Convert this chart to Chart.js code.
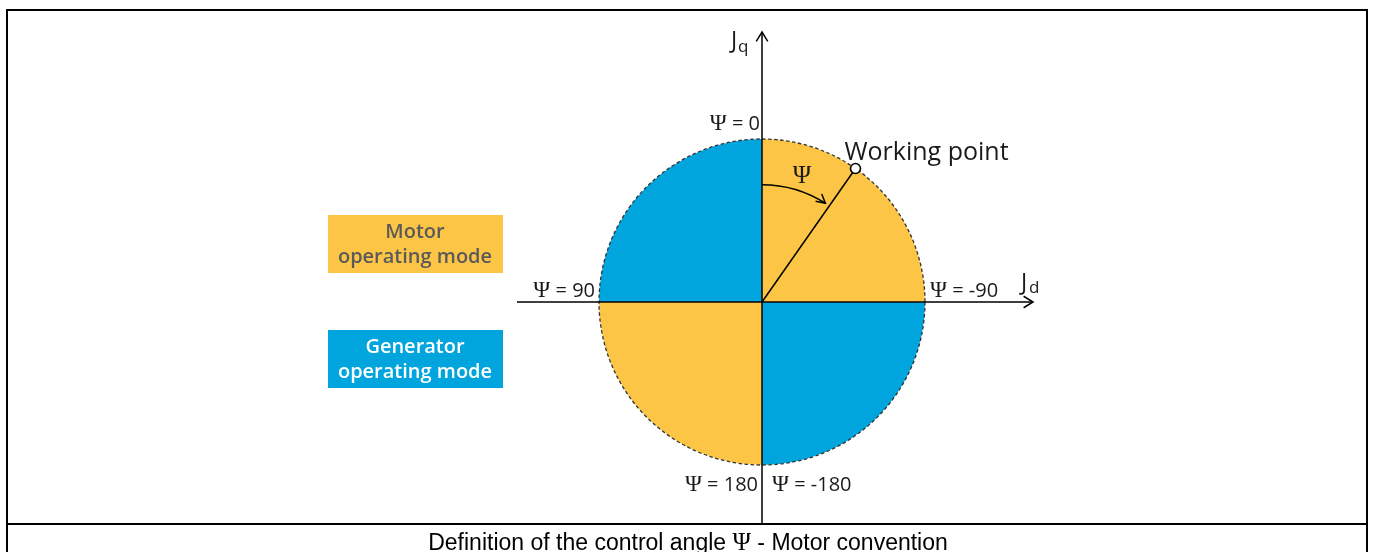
<!DOCTYPE html>
<html>
<head>
<meta charset="utf-8">
<script src="https://cdn.jsdelivr.net/npm/chart.js@4/dist/chart.umd.min.js"></script>
<style>
  html, body { margin: 0; padding: 0; background: #fff; }
  #wrap { position: relative; width: 1373px; height: 552px; }
</style>
</head>
<body>
<div id="wrap"><canvas id="psiChart"></canvas></div>
<script>
// quadrants, clockwise starting at the Jq axis
const quadrantLabels = ['Motor (0 to -90)', 'Generator (-90 to -180)', 'Motor (180 to 90)', 'Generator (90 to 0)'];
const quadrantSpans = [90, 90, 90, 90];
const quadrantColors = ['#FDC545', '#00A5DD', '#FDC545', '#00A5DD'];

// angle labels around the circle
const angleTop = 'Ψ = 0';
const angleRight = 'Ψ = -90';
const angleLeft = 'Ψ = 90';
const angleBottomLeft = 'Ψ = 180';
const angleBottomRight = 'Ψ = -180';

// working point, degrees clockwise from Jq
const workingPointAngle = 35;
const workingPointLabel = 'Working point';

const modeLabels = [['Motor', 'operating mode'], ['Generator', 'operating mode']];
const captionText = ['Definition of the control angle ', 'Ψ', ' - Motor convention'];

const SANS = '"Open Sans", "Noto Sans", sans-serif';
const SERIF = '"Liberation Serif", "DejaVu Serif", serif';
const ARIAL = '"Liberation Sans", Arial, sans-serif';

// draw a line of text made of several font runs
function drawRuns(ctx, runs, x, y, align) {
    let total = 0;
    runs.forEach(r => { ctx.font = r.font; total += ctx.measureText(r.text).width; });
    let cx = align === 'right' ? x - total : align === 'center' ? x - total / 2 : x;
    ctx.textAlign = 'left';
    runs.forEach(r => {
        ctx.font = r.font;
        ctx.fillText(r.text, cx, y);
        cx += ctx.measureText(r.text).width;
    });
}

function psiRuns(label, size) {
    return [
        { text: label.charAt(0), font: `${size + 3}px ${SERIF}` },
        { text: label.slice(1), font: `${size}px ${SANS}` }
    ];
}

function chevron(ctx, x, y, dirAngle, len, spread) {
    ctx.beginPath();
    ctx.moveTo(x - len * Math.cos(dirAngle - spread), y - len * Math.sin(dirAngle - spread));
    ctx.lineTo(x, y);
    ctx.lineTo(x - len * Math.cos(dirAngle + spread), y - len * Math.sin(dirAngle + spread));
    ctx.stroke();
}

const diagramPlugin = {
    id: 'diagram',
    beforeDraw(chart) {
        const ctx = chart.ctx;
        ctx.save();
        ctx.fillStyle = '#fff';
        ctx.fillRect(0, 0, chart.width, chart.height);

        // mode boxes
        const boxes = [{ y: 215, bg: quadrantColors[0], fg: '#5a5a5a' }, { y: 330, bg: quadrantColors[1], fg: '#ffffff' }];
        boxes.forEach((b, i) => {
            ctx.fillStyle = b.bg;
            ctx.fillRect(328, b.y, 175, 58);
            ctx.fillStyle = b.fg;
            ctx.font = `600 20px ${SANS}`;
            ctx.textAlign = 'center';
            ctx.textBaseline = 'alphabetic';
            ctx.fillText(modeLabels[i][0], 415, b.y + 23);
            ctx.fillText(modeLabels[i][1], 415, b.y + 48);
        });
        ctx.restore();
    },
    afterDraw(chart) {
        const ctx = chart.ctx;
        const arc = chart.getDatasetMeta(0).data[0];
        const cx = arc.x, cy = arc.y, r = arc.outerRadius;
        ctx.save();

        // dashed outline
        ctx.strokeStyle = '#333';
        ctx.lineWidth = 1.3;
        ctx.setLineDash([3.5, 2.5]);
        ctx.beginPath();
        ctx.arc(cx, cy, r, 0, Math.PI * 2);
        ctx.stroke();
        ctx.setLineDash([]);

        // axes
        ctx.strokeStyle = '#000';
        ctx.lineWidth = 1.5;
        ctx.beginPath();
        ctx.moveTo(cx, 524);
        ctx.lineTo(cx, 32);
        ctx.moveTo(517, cy);
        ctx.lineTo(1033, cy);
        ctx.stroke();
        chevron(ctx, cx, 32, -Math.PI / 2, 11, 0.55);
        chevron(ctx, 1033, cy, 0, 11, 0.55);

        // working point
        const a = workingPointAngle * Math.PI / 180;
        const wx = cx + r * Math.sin(a), wy = cy - r * Math.cos(a);
        ctx.beginPath();
        ctx.moveTo(cx, cy);
        ctx.lineTo(wx, wy);
        ctx.stroke();

        // angle arc with arrow
        const ar = r * 0.72;
        const endA = a - 0.04;
        ctx.beginPath();
        ctx.arc(cx, cy, ar, -Math.PI / 2, -Math.PI / 2 + endA);
        ctx.stroke();
        const ex = cx + ar * Math.sin(endA), ey = cy - ar * Math.cos(endA);
        chevron(ctx, ex, ey, endA + 0.12, 10, 0.5);

        ctx.beginPath();
        ctx.arc(wx, wy, 5, 0, Math.PI * 2);
        ctx.fillStyle = '#fff';
        ctx.fill();
        ctx.lineWidth = 1.6;
        ctx.stroke();

        // labels
        ctx.fillStyle = '#1a1a1a';
        ctx.textBaseline = 'alphabetic';
        drawRuns(ctx, psiRuns(angleTop, 20), cx - 2, cy - r - 9, 'right');
        drawRuns(ctx, psiRuns(angleLeft, 20), cx - r - 4, cy - 5, 'right');
        drawRuns(ctx, psiRuns(angleRight, 20), cx + r + 5, cy - 5, 'left');
        drawRuns(ctx, psiRuns(angleBottomLeft, 20), cx - 4, cy + r + 26, 'right');
        drawRuns(ctx, psiRuns(angleBottomRight, 20), cx + 10, cy + r + 26, 'left');

        ctx.font = `25px ${SERIF}`;
        ctx.textAlign = 'center';
        ctx.fillText('Ψ', 802, 183);

        ctx.font = `25px ${SANS}`;
        ctx.textAlign = 'left';
        ctx.fillText(workingPointLabel, wx - 11, wy - 8);

        // axis names
        drawRuns(ctx, [{ text: 'J', font: `23px ${SANS}` }], 731, 48, 'left');
        drawRuns(ctx, [{ text: 'q', font: `17px ${SANS}` }], 738, 52, 'left');
        drawRuns(ctx, [{ text: 'J', font: `23px ${SANS}` }], 1021, 290, 'left');
        drawRuns(ctx, [{ text: 'd', font: `17px ${SANS}` }], 1029, 293, 'left');

        // frame and caption
        ctx.strokeStyle = '#000';
        ctx.lineWidth = 2;
        ctx.beginPath();
        ctx.moveTo(7, 560);
        ctx.lineTo(7, 10);
        ctx.lineTo(1367, 10);
        ctx.lineTo(1367, 560);
        ctx.moveTo(7, 524);
        ctx.lineTo(1367, 524);
        ctx.stroke();

        ctx.fillStyle = '#000';
        drawRuns(ctx, [
            { text: captionText[0], font: `23px ${ARIAL}` },
            { text: captionText[1], font: `25px ${SERIF}` },
            { text: captionText[2], font: `23px ${ARIAL}` }
        ], 688, 550, 'center');

        ctx.restore();
    }
};

new Chart(document.getElementById('psiChart'), {
    type: 'pie',
    data: {
        labels: quadrantLabels,
        datasets: [{
            data: quadrantSpans,
            backgroundColor: quadrantColors,
            borderWidth: 0,
            hoverOffset: 0
        }]
    },
    options: {
        responsive: true,
        maintainAspectRatio: false,
        animation: false,
        events: [],
        layout: { padding: { left: 599, top: 139, right: 448, bottom: 87 } },
        plugins: { legend: { display: false }, tooltip: { enabled: false } }
    },
    plugins: [diagramPlugin]
});
</script>
</body>
</html>
